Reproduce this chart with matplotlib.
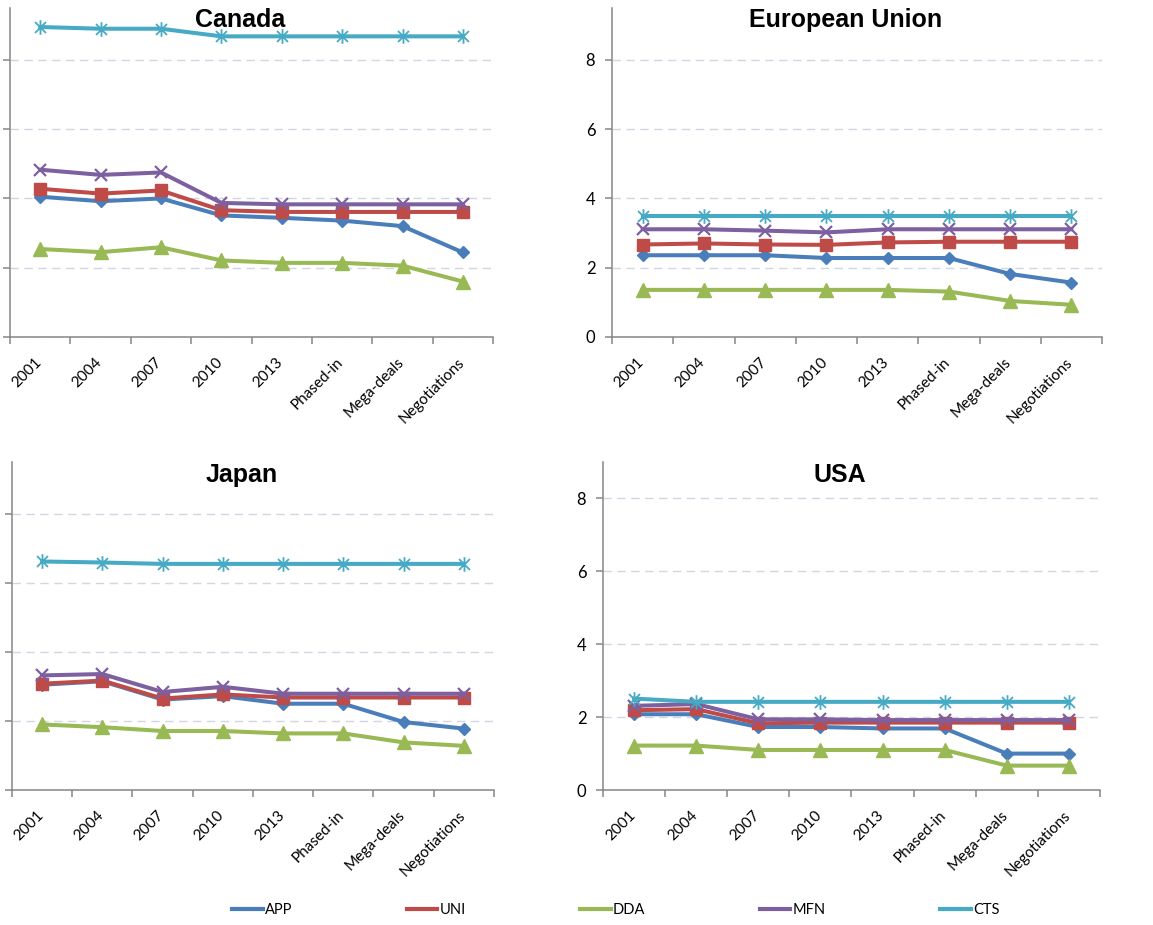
import matplotlib.pyplot as plt
from matplotlib.lines import Line2D
from matplotlib.path import Path
from matplotlib.transforms import ScaledTranslation

plt.rcParams['font.family'] = ['Lato', 'DejaVu Sans']

categories = ['2001', '2004', '2007', '2010', '2013', 'Phased-in', 'Mega-deals', 'Negotiations']
series_names = ['APP', 'UNI', 'DDA', 'MFN', 'CTS']

canada_app = [4.05, 3.92, 4.00, 3.51, 3.44, 3.36, 3.20, 2.44]
canada_uni = [4.28, 4.14, 4.23, 3.66, 3.61, 3.61, 3.61, 3.61]
canada_dda = [2.54, 2.45, 2.59, 2.21, 2.14, 2.14, 2.06, 1.60]
canada_mfn = [4.83, 4.68, 4.75, 3.87, 3.83, 3.83, 3.83, 3.83]
canada_cts = [8.95, 8.90, 8.90, 8.68, 8.68, 8.68, 8.68, 8.68]

eu_app = [2.36, 2.36, 2.36, 2.28, 2.28, 2.28, 1.82, 1.57]
eu_uni = [2.67, 2.70, 2.67, 2.66, 2.73, 2.75, 2.75, 2.75]
eu_dda = [1.36, 1.36, 1.36, 1.36, 1.36, 1.31, 1.04, 0.93]
eu_mfn = [3.11, 3.11, 3.07, 3.02, 3.11, 3.11, 3.11, 3.11]
eu_cts = [3.49, 3.49, 3.49, 3.49, 3.49, 3.49, 3.49, 3.49]

japan_app = [3.05, 3.15, 2.62, 2.72, 2.50, 2.50, 1.97, 1.78]
japan_uni = [3.08, 3.17, 2.65, 2.77, 2.68, 2.68, 2.68, 2.68]
japan_dda = [1.90, 1.82, 1.71, 1.71, 1.64, 1.64, 1.38, 1.28]
japan_mfn = [3.32, 3.36, 2.84, 2.99, 2.79, 2.79, 2.79, 2.79]
japan_cts = [6.62, 6.59, 6.55, 6.55, 6.55, 6.55, 6.55, 6.55]

usa_app = [2.08, 2.08, 1.73, 1.73, 1.69, 1.69, 1.00, 1.00]
usa_uni = [2.19, 2.22, 1.83, 1.85, 1.85, 1.85, 1.85, 1.85]
usa_dda = [1.22, 1.22, 1.10, 1.10, 1.10, 1.10, 0.67, 0.67]
usa_mfn = [2.31, 2.36, 1.94, 1.94, 1.92, 1.92, 1.92, 1.92]
usa_cts = [2.51, 2.42, 2.42, 2.42, 2.42, 2.42, 2.42, 2.42]

colors = ['#4A7EBB', '#BE4B48', '#98B954', '#7D60A0', '#46AAC5']

# asterisk marker: vertical bar plus an x
star = Path([(0, -1), (0, 1), (-0.75, -0.75), (0.75, 0.75), (-0.75, 0.75), (0.75, -0.75)],
            [Path.MOVETO, Path.LINETO] * 3)
marker_styles = [
    dict(marker='D', ms=6.5),
    dict(marker='s', ms=8.5),
    dict(marker='^', ms=10),
    dict(marker='x', ms=8, mew=1.6),
    dict(marker=star, ms=10.5, mew=1.3),
]

# title, data, axes rect (left, bottom, width, height), y max, show y labels
panels = [
    ('Canada', [canada_app, canada_uni, canada_dda, canada_mfn, canada_cts],
     [0.0087, 0.6357, 0.419, 0.3557], 9.5, False),
    ('European Union', [eu_app, eu_uni, eu_dda, eu_mfn, eu_cts],
     [0.5308, 0.6357, 0.425, 0.3557], 9.5, True),
    ('Japan', [japan_app, japan_uni, japan_dda, japan_mfn, japan_cts],
     [0.0104, 0.1459, 0.418, 0.3546], 9.5, False),
    ('USA', [usa_app, usa_uni, usa_dda, usa_mfn, usa_cts],
     [0.523, 0.1459, 0.431, 0.3546], 9.0, True),
]

fig = plt.figure(figsize=(11.53, 9.25), dpi=100)
x = list(range(len(categories)))

for title, data, rect, ymax, show_labels in panels:
    ax = fig.add_axes(rect)
    for vals, col, mst in zip(data, colors, marker_styles):
        ax.plot(x, vals, color=col, lw=2.9, mec=col, mfc=col, zorder=3, **mst)

    ax.set_xlim(-0.5, len(categories) - 0.5)
    ax.set_ylim(0, ymax)
    ax.set_yticks([0, 2, 4, 6, 8])
    ax.yaxis.grid(True, color='#D2D6E4', lw=1, dashes=(6, 4))
    ax.set_axisbelow(True)

    for side in ['top', 'right']:
        ax.spines[side].set_visible(False)
    for side in ['left', 'bottom']:
        ax.spines[side].set_color('#868686')
        ax.spines[side].set_linewidth(1.1)

    ax.set_xticks(x)
    ax.set_xticks([i - 0.5 for i in range(len(categories) + 1)], minor=True)
    ax.tick_params(axis='x', which='major', length=0, pad=13)
    ax.tick_params(axis='x', which='minor', length=5, color='#868686', width=1.1)
    ax.set_xticklabels(categories, rotation=45, ha='right', va='top', fontsize=11)
    for lab in ax.get_xticklabels():
        lab.set_transform(lab.get_transform() + ScaledTranslation(0.04, 0, fig.dpi_scale_trans))

    ax.tick_params(axis='y', length=5, color='#868686', width=1.1, pad=7, labelsize=12)
    if not show_labels:
        ax.set_yticklabels([])

    ax.text(0.477, 0.962, title, transform=ax.transAxes, ha='center', va='center',
            fontsize=18, fontweight='bold', family='Liberation Sans')

handles = [Line2D([], [], color=c, lw=3) for c in colors]
fig.legend(handles, series_names, loc='center', bbox_to_anchor=(0.534, 0.016), ncol=5,
           frameon=False, handlelength=2.1, handletextpad=0.15, columnspacing=7.85, fontsize=10.5)

fig.savefig('out.png', dpi=100)
